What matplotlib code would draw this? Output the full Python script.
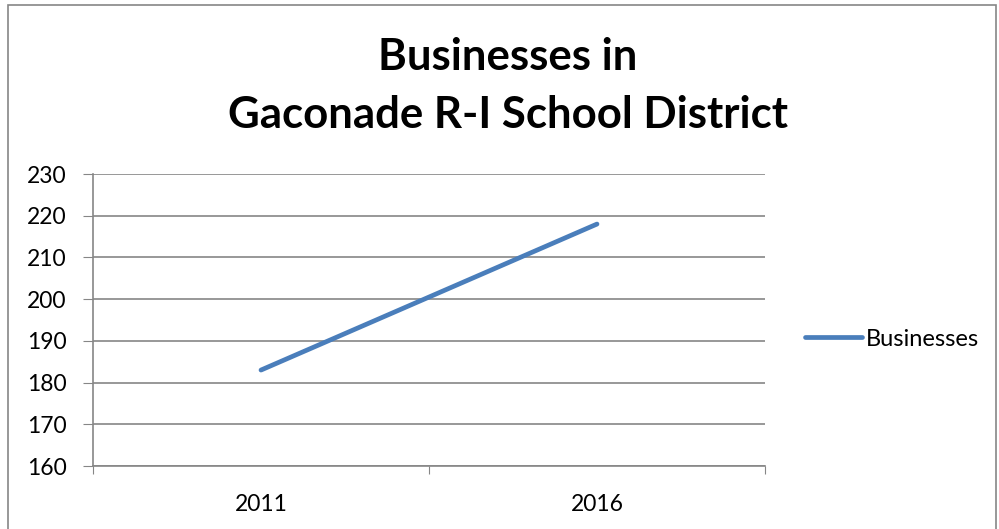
import matplotlib.pyplot as plt
from matplotlib.patches import Rectangle

years = ["2011", "2016"]
businesses = [183, 218]
yticks = [160, 170, 180, 190, 200, 210, 220, 230]

plt.rcParams['font.family'] = ['Lato', 'DejaVu Sans']

fig = plt.figure(figsize=(9.99, 5.29), dpi=100)
ax = fig.add_axes([93 / 999, 63 / 529, 672 / 999, 292 / 529])

x = [i + 0.5 for i in range(len(years))]
line, = ax.plot(x, businesses, color="#4a7ebb", lw=3.4, solid_capstyle="round",
                label="Businesses")

ax.set_xlim(0, len(years))
ax.set_ylim(160, 230)
ax.set_yticks(yticks)
ax.set_xticks(range(len(years) + 1))
ax.set_xticklabels([])
ax.set_xticks(x, minor=True)
ax.set_xticklabels(years, minor=True)
ax.tick_params(axis="x", which="minor", length=0, pad=20, labelsize=16.5)
ax.tick_params(axis="x", which="major", length=6, color="#868686", direction="out")
ax.tick_params(axis="y", length=7, color="#868686", labelsize=16.5, pad=12)
ax.yaxis.grid(True, color="#868686", lw=1.2)
ax.set_axisbelow(True)
for side in ["top", "right"]:
    ax.spines[side].set_visible(False)
for side in ["left", "bottom"]:
    ax.spines[side].set_color("#868686")
    ax.spines[side].set_linewidth(1.2)

fig.text(508 / 999, 1 - 57 / 529, "Businesses in", ha="center", va="center",
         fontsize=31.5, fontweight="bold")
fig.text(508 / 999, 1 - 115 / 529, "Gaconade R-I School District", ha="center",
         va="center", fontsize=31.5, fontweight="bold")

fig.legend(handles=[line], loc="center left", bbox_to_anchor=(784 / 999, 1 - 339 / 529),
           frameon=False, fontsize=17, handlelength=2.4, handletextpad=0.15)

fig.patches.append(Rectangle((8 / 999, -0.1), 988 / 999, 1.1 - 5 / 529, transform=fig.transFigure,
                             fill=False, edgecolor="#868686", lw=1.2))

fig.savefig("out.png", dpi=100)
